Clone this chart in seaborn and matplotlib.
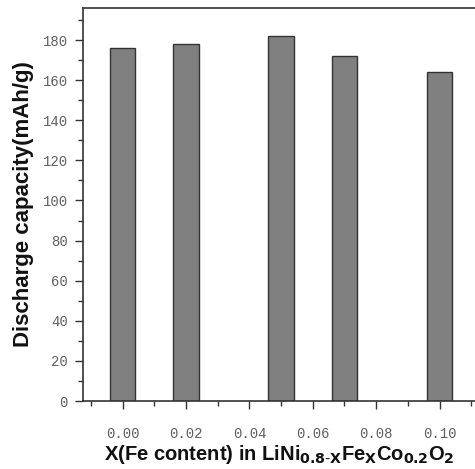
import matplotlib
matplotlib.use("Agg")
import matplotlib.pyplot as plt
import seaborn as sns
import pandas as pd
from matplotlib.ticker import MultipleLocator

fe_content = [0.00, 0.02, 0.05, 0.07, 0.10]
capacity = [176, 178, 182, 172, 164]
x_ticks = [0.00, 0.02, 0.04, 0.06, 0.08, 0.10]
y_ticks = [0, 20, 40, 60, 80, 100, 120, 140, 160, 180]

df = pd.DataFrame({"x": fe_content, "cap": capacity})

sns.set_theme(style="white")
plt.rcParams["font.family"] = ["Liberation Sans", "DejaVu Sans"]

fig = plt.figure(figsize=(4.75, 4.69), dpi=100)
ax = fig.add_axes([83 / 475, 1 - 401 / 469, 1 - 83 / 475 + 0.002, (401 - 8) / 469])

sns.barplot(data=df, x="x", y="cap", native_scale=True, width=0.4,
            color="#808080", saturation=1, edgecolor="#333333", linewidth=1.0,
            ax=ax, errorbar=None)

ax.set_xlim(-0.01255, 0.1115)
ax.set_ylim(0, 196)
ax.set_xticks(x_ticks)
ax.set_xticklabels([f"{v:.2f}" for v in x_ticks])
ax.set_yticks(y_ticks)
ax.xaxis.set_minor_locator(MultipleLocator(0.01))
ax.yaxis.set_minor_locator(MultipleLocator(10))

for s in ["left", "bottom", "top"]:
    ax.spines[s].set_color("#333333")
    ax.spines[s].set_linewidth(1.2)
ax.spines["right"].set_visible(False)

ax.tick_params(axis="both", which="major", direction="out", length=6, width=1.0,
               color="#333333", bottom=True, left=True, top=False, right=False,
               labelsize=10, labelcolor="#606060")
ax.tick_params(axis="x", which="major", pad=13)
ax.tick_params(axis="y", which="major", pad=5)
ax.tick_params(axis="both", which="minor", direction="out", length=3.5, width=1.0,
               color="#333333", bottom=True, left=True, top=False, right=False)
for lab in ax.get_xticklabels() + ax.get_yticklabels():
    lab.set_family(["Liberation Mono", "DejaVu Sans Mono"])

ax.set_ylabel("Discharge capacity(mAh/g)", fontsize=16, fontweight="bold",
              color="#111111", labelpad=6)
ax.set_xlabel(r"X(Fe content) in LiNi$_{\mathbf{0.8\text{-}X}}$Fe$_{\mathbf{X}}$Co$_{\mathbf{0.2}}$O$_{\mathbf{2}}$",
              fontsize=14.5, fontweight="bold", color="#111111", labelpad=1)
ax.grid(False)

fig.savefig("out.png", dpi=100)
